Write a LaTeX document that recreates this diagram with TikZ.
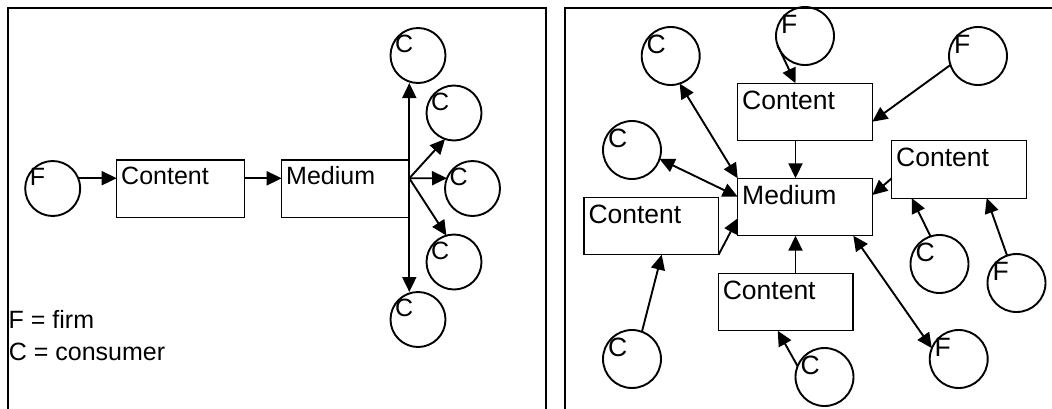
\documentclass[tikz,border=0pt]{standalone}
\usepackage{fontspec}
\setmainfont{Liberation Sans}
\usetikzlibrary{arrows.meta,calc}
\begin{document}
\begin{tikzpicture}[x=1pt,y=-1pt,
  frame/.style={line width=1.6pt},
  circL/.style={draw, circle, minimum size=55pt, inner sep=0pt, outer sep=0pt, line width=1.9pt},
  circR/.style={draw, circle, minimum size=58pt, inner sep=0pt, outer sep=0pt, line width=1.9pt},
  boxL/.style={draw, rectangle, anchor=north west, minimum width=128pt, minimum height=57.3pt, inner sep=0pt, outer sep=0pt, line width=1.2pt},
  boxR/.style={draw, rectangle, anchor=north west, minimum width=134.6pt, minimum height=57.4pt, inner sep=0pt, outer sep=0pt, line width=1.2pt},
  txtL/.style={anchor=base west, inner sep=0pt, font=\fontsize{25}{30}\selectfont},
  txtR/.style={anchor=base west, inner sep=0pt, font=\fontsize{26.5}{32}\selectfont},
  tipA/.tip={Triangle[length=15pt,width=14pt]},
  arr/.style={line width=1.9pt, -tipA},
  darr/.style={line width=1.9pt, tipA-tipA},
]
\useasboundingbox (0,0) rectangle (1052,408);
% frames
\draw[frame] (8,412) -- (8,8) -- (546,8) -- (546,412);
\draw[frame] (564.7,412) -- (564.7,8) -- (1056,8);

% ---------------- left panel ----------------
\node[circL] (Fl) at (52.7,188.5) {};
\node[txtL] (tFl) at ($(Fl.center)+(-23,-3)$) {F};
\node[boxL] (ContentL) at (116.7,160) {};
\node[txtL] (tContentL) at ($(ContentL.north west)+(4.3,24.5)$) {Content};
\node[boxL, minimum width=127.6pt] (MediumL) at (281.7,160) {};
\node[txtL] (tMediumL) at ($(MediumL.north west)+(4.3,24.5)$) {Medium};

\node[circL] (C1) at (418,55.5) {};
\node[circL] (C2) at (454,113) {};
\node[circL] (C3) at (472.5,188.5) {};
\node[circL] (C4) at (454,262) {};
\node[circL] (C5) at (418,319.5) {};
\foreach \n in {C1,C2,C3,C4,C5}{
  \node[txtL] (t\n) at ($(\n.center)+(-23,-3)$) {C};
}

\node[txtL] (leg1) at (8.5,328.3) {F = firm};
\node[txtL] (leg2) at (8.7,360.5) {C = consumer};

\coordinate (rowL) at (0,178.3);
\draw[arr] (Fl.22) -- (Fl.22 -| ContentL.west);
\draw[arr] (ContentL.east |- rowL) -- (MediumL.west |- rowL);
\coordinate (hub) at (MediumL.east |- rowL);
\draw[darr] (hub |- C1.south) -- (hub |- C5.north);
\draw[arr] (hub) -- (C2.251);
\draw[arr] (hub) -- (C3.158);
\draw[arr] (hub) -- (C4.106);

% ---------------- right panel ----------------
\node[circR] (rC1) at (670.7,56) {};
\node[circR] (rF1) at (805,36) {};
\node[circR] (rF2) at (978,56) {};
\node[circR] (rC2) at (632,150) {};
\node[circR] (rC3) at (939.5,264) {};
\node[circR] (rF3) at (1016.5,283) {};
\node[circR] (rC4) at (632,359) {};
\node[circR] (rC5) at (824.5,377) {};
\node[circR] (rF4) at (958.7,359) {};
\foreach \n/\t in {rC1/C,rF1/F,rF2/F,rC2/C,rC3/C,rF3/F,rC4/C,rC5/C,rF4/F}{
  \node[txtR] (t\n) at ($(\n.center)+(-24.2,-3)$) {\t};
}

\node[boxR] (rCT) at (737.7,83.3) {};
\node[boxR] (rM) at (737.7,178.3) {};
\node[boxR] (rCR) at (891.7,140.7) {};
\node[boxR] (rCL) at (584,197.3) {};
\node[boxR] (rCB) at (718.3,273.3) {};
\foreach \n/\t in {rCT/Content,rM/Medium,rCR/Content,rCL/Content,rCB/Content}{
  \node[txtR] (t\n) at ($(\n.north west)+(4.3,25.8)$) {\t};
}

\coordinate (xcol) at (795.5,0);
\draw[arr] (rF1.198) -- (xcol |- rCT.north);
\draw[arr] (rF2.198) -- ($(rCT.east)+(0,9.7)$);
\draw[arr] (xcol |- rCT.south) -- (xcol |- rM.north);
\draw[darr] (rC1.288) -- (rM.north west);
\draw[darr] (rC2.342) -- ($(rM.north west)+(0,18.4)$);
\draw[arr] (rCL.south east) -- ($(rM.north west)+(0,40)$);
\draw[arr] (rCR.west |- rM.north) -- ($(rM.north east)+(0,16.7)$);
\draw[arr] (xcol |- rCB.north) -- (xcol |- rM.south);
\draw[darr] ($(rM.south east)+(-19,0)$) -- (rF4.158);
\draw[arr] (rC3.108) -- ($(rCR.south west)+(20,0)$);
\draw[arr] (rF3.109) -- ($(rCR.south west)+(95,0)$);
\draw[arr] (rC4.70) -- ($(rCL.south west)+(77.7,0)$);
\draw[arr] (rC5.158) -- ($(rCB.south west)+(59.4,0)$);
\end{tikzpicture}
\end{document}
